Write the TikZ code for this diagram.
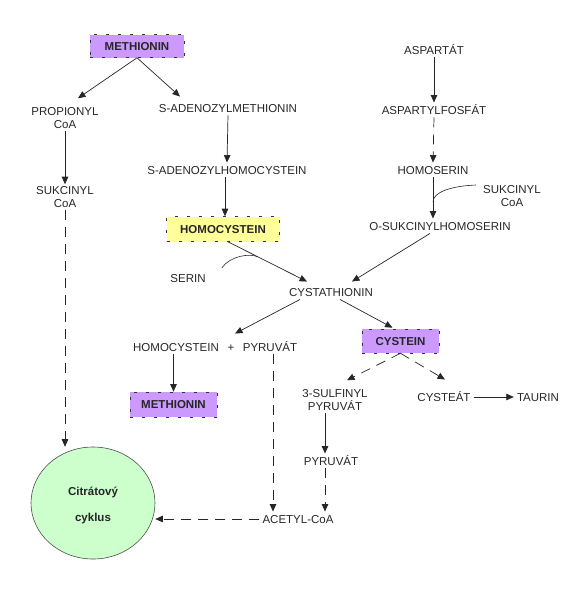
\documentclass[tikz,border=0pt]{standalone}
\usepackage{fontspec}
\setmainfont{Liberation Sans}
\usetikzlibrary{arrows.meta,shapes.geometric,calc}
\definecolor{violetbox}{RGB}{204,153,255}
\definecolor{yellowbox}{RGB}{255,255,153}
\definecolor{greenbox}{RGB}{204,255,204}
\begin{document}
\begin{tikzpicture}[x=1pt,y=-1pt,
  every node/.style={font=\fontsize{11.5}{13}\selectfont, text=black!85},
  lbl/.style={inner sep=3pt, text height=8.5pt, text depth=0pt},
  lbl2/.style={inner sep=2pt, align=center},
  mbox/.style={draw=black!80, dash pattern=on 3pt off 9pt, line width=0.6pt,
    font=\fontsize{11.5}{13}\selectfont\bfseries, text height=8.5pt, text depth=0pt, inner sep=0pt},
  arr/.style={-{Triangle[length=7.5pt,width=6.5pt]}, line width=0.7pt, draw=black!85},
  darr/.style={arr, dash pattern=on 10pt off 7pt},
  thinline/.style={line width=0.6pt, draw=black!85},
]
\useasboundingbox (0,0) rectangle (575,590);

% nodes
\node[mbox, fill=violetbox, minimum width=94pt, minimum height=23pt] (meth1) at (137,46) {METHIONIN};
\node[lbl2] (prop) at (65,118) {PROPIONYL\\CoA};
\node[lbl] (sam) at (228,108) {S-ADENOZYLMETHIONIN};
\node[lbl] (sah) at (227,170) {S-ADENOZYLHOMOCYSTEIN};
\node[mbox, fill=yellowbox, minimum width=113pt, minimum height=25pt] (hcy) at (223,229) {HOMOCYSTEIN};
\node[lbl2] (suk1) at (65,197) {SUKCINYL\\CoA};
\node[lbl] (asp) at (434,50) {ASPARTÁT};
\node[lbl] (aspf) at (434,110) {ASPARTYLFOSFÁT};
\node[lbl] (hser) at (433,170) {HOMOSERIN};
\node[lbl2] (suk2) at (512,196) {SUKCINYL\\CoA};
\node[lbl] (osh) at (440,226) {O-SUKCINYLHOMOSERIN};
\node[lbl] (serin) at (188,278) {SERIN};
\node[lbl] (cysta) at (331,292) {CYSTATHIONIN};
\node[lbl] (hcy2) at (176,347) {HOMOCYSTEIN};
\node[lbl] (plus) at (231,347) {+};
\node[lbl] (pyr1) at (270,347) {PYRUVÁT};
\node[mbox, fill=violetbox, minimum width=77pt, minimum height=24pt] (cys) at (400.5,341) {CYSTEIN};
\node[mbox, fill=violetbox, minimum width=87pt, minimum height=25pt] (meth2) at (173.5,404.5) {METHIONIN};
\node[lbl2] (sulf) at (335,400) {3-SULFINYL\\PYRUVÁT};
\node[lbl] (cyst) at (444,397) {CYSTEÁT};
\node[lbl] (taur) at (538,397) {TAURIN};
\node[lbl] (pyr2) at (331,461) {PYRUVÁT};
\node[lbl] (acetyl) at (298,519) {ACETYL-CoA};
\node[ellipse, draw=black!70, fill=greenbox, minimum width=124pt, minimum height=112pt,
      inner sep=0pt, line width=0.6pt] (citr) at (93,503) {};
\node[lbl, font=\fontsize{11.5}{13}\selectfont\bfseries] (citr1) at (93,491) {Citrátový};
\node[lbl, font=\fontsize{11.5}{13}\selectfont\bfseries] (citr2) at (93,517) {cyklus};

% connectors
\draw[arr] (meth1.south) -- ([xshift=13pt,yshift=7pt]prop.north);
\draw[arr] (meth1.south) -- ([xshift=-48pt,yshift=4pt]sam.north);
\draw[arr] (sam.south) -- (sah.north);
\draw[arr] ([xshift=-2pt]sah.south) -- ([xshift=2pt]hcy.north);
\draw[arr] (prop.south) -- (suk1.north);
\draw[darr] (suk1.south) -- (suk1.south |- citr.north);
\draw[arr] (asp.south) -- (aspf.north);
\draw[darr] (aspf.south) -- (hser.north);
\draw[arr] (hser.south) -- (hser.south |- osh.north);
\draw[thinline] ([xshift=-5pt,yshift=11pt]suk2.west) .. controls +(-25,1) and +(0,-10) ..
      ($(hser.south)!0.6!(hser.south |- osh.north)$);
\draw[arr] ([xshift=-10pt]osh.south) -- ([xshift=21pt,yshift=3pt]cysta.north);
\draw[arr] ([xshift=5pt]hcy.south) -- ([xshift=-24pt,yshift=3pt]cysta.north);
\draw[thinline] ([xshift=13pt,yshift=10pt]serin.east) .. controls +(8,-12) and +(-8,-4) ..
      ($([xshift=5pt]hcy.south)!0.38!([xshift=-24pt,yshift=3pt]cysta.north)$);
\draw[arr] ([xshift=-31pt]cysta.south) -- ([xshift=4pt,yshift=6pt]plus.north);
\draw[arr] ([xshift=9pt]cysta.south) -- ([xshift=-8pt,yshift=1pt]cys.north);
\draw[arr] (hcy2.south -| meth2.north) -- (meth2.north);
\draw[darr] ([xshift=3pt]pyr1.south) -- ([xshift=3pt]pyr1.south |- acetyl.north);
\draw[darr] (cys.south) -- ([xshift=12pt,yshift=7pt]sulf.north);
\draw[darr] (cys.south) -- ([xshift=1pt,yshift=10pt]cyst.north);
\draw[arr] (cyst.east) -- (taur.west);
\draw[arr] ([xshift=-10pt]sulf.south) -- ([xshift=-6pt]pyr2.north);
\draw[darr] ([xshift=-6pt]pyr2.south) -- ([xshift=-6pt]pyr2.south |- acetyl.north);
\draw[darr] (acetyl.west) -- (acetyl.west -| citr.east);
\end{tikzpicture}
\end{document}
